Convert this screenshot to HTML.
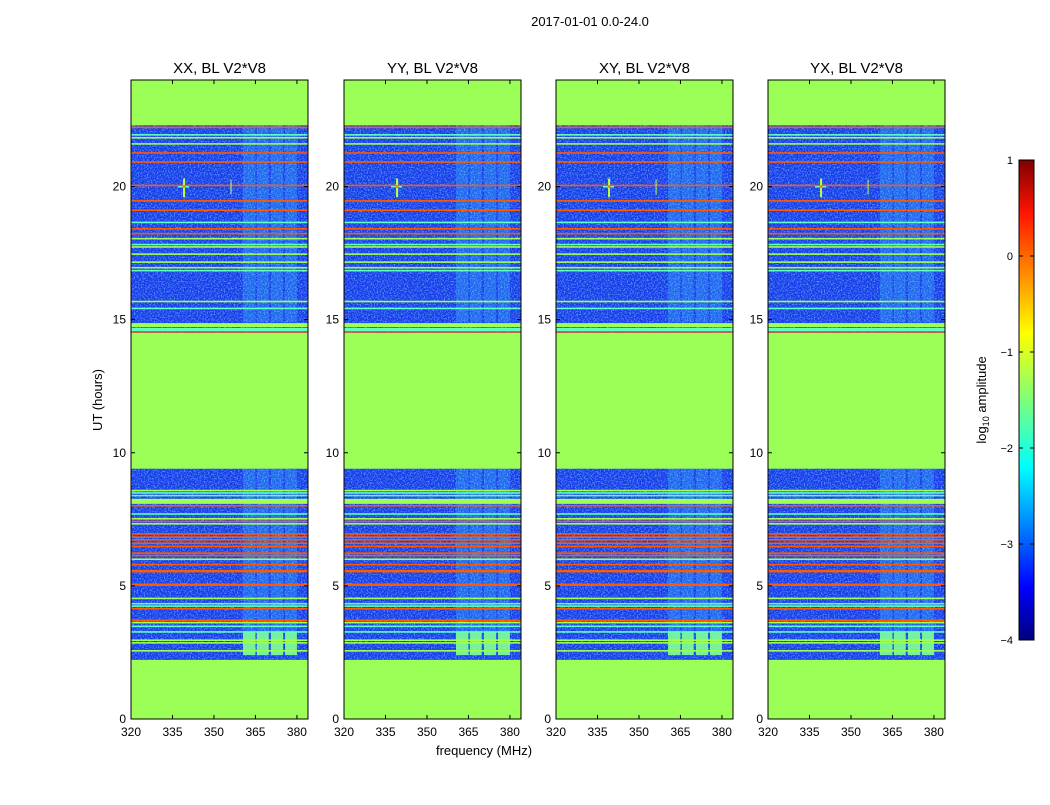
<!DOCTYPE html>
<html><head><meta charset="utf-8"><style>
body{margin:0;background:#fff;}
svg text{font-family:"Liberation Sans",sans-serif;}
</style></head><body>
<svg id="fig" width="1050" height="800" xmlns="http://www.w3.org/2000/svg">
<defs>
<filter id="noise" x="0" y="0" width="100%" height="100%">
<feTurbulence type="fractalNoise" baseFrequency="0.7" numOctaves="2" seed="3"/>
<feColorMatrix type="matrix" values="0 0 0 0 0.1  0 0 0 0 0.45  0 0 0 0 1  0 0 0 2.5 -1.1"/>
</filter>
<linearGradient id="jet" x1="0" y1="1" x2="0" y2="0">
<stop offset="0" stop-color="#00007f"/><stop offset="0.11" stop-color="#0000ff"/>
<stop offset="0.36" stop-color="#00ffff"/><stop offset="0.5" stop-color="#7dff7a"/>
<stop offset="0.64" stop-color="#ffff00"/><stop offset="0.89" stop-color="#ff1400"/>
<stop offset="1" stop-color="#7f0000"/></linearGradient>
</defs>
<text x="590" y="26" font-size="13" text-anchor="middle">2017-01-01 0.0-24.0</text>
<text x="484" y="755" font-size="13" text-anchor="middle">frequency (MHz)</text>
<text transform="translate(102,400) rotate(-90)" font-size="13" text-anchor="middle">UT (hours)</text>
<g id="panels"></g>
<g id="cbar"></g>
</svg>
<script>
const titles=["XX, BL V2*V8","YY, BL V2*V8","XY, BL V2*V8","YX, BL V2*V8"];
const panelLefts=[131,344,556,768];
const xTicks=[320,335,350,365,380];
const yTicks=[0,5,10,15,20];
const greenSpans=[[0,2.22],[9.4,14.5],[22.3,24]];
const lineHours=[22.22,21.94,21.83,21.6,21.26,20.92,20.04,19.46,19.11,18.65,18.41,18.23,18.04,17.82,17.73,17.46,17.16,16.95,16.84,15.68,15.42,14.54,
8.58,8.49,8.39,8.01,7.7,7.52,7.42,7.33,6.95,6.83,6.73,6.6,6.48,6.23,6.14,6.0,5.8,5.57,5.06,4.53,4.33,4.24,4.14,3.71,3.62,3.48,3.27,2.96,2.86,2.56];
const lineKinds=["o","c","g","g","o","o","o","o","o","c","o","o","g","c","g","g","g","g","c","g","c","o",
"g","c","c","o","c","g","o","g","o","o","o","o","o","o","o","g","o","O","O","g","c","c","o","o","g","c","c","g","g","g"];
const bandSpans=[[14.72,14.87,"g"],[14.57,14.69,"c"],[8.08,8.27,"g"]];
const rfiFreqs=[[360.5,365],[365.5,369.8],[370.6,375],[375.7,380]];
const rfiHourSpans=[[2.4,9.4],[14.9,22.3]];
const rfiBlockHours=[[2.4,3.27],[14.57,14.69]];
const cbTicks=[1,0,-1,-2,-3,-4];
const kindColor={o:"#ff5a00",O:"#ff5a00",g:"#a0ff50",c:"#60ffc0"};
const W=177,TOP=80,BOT=719,FMIN=320,FMAX=384,HMAX=24;
const svg=document.getElementById('fig'),NS="http://www.w3.org/2000/svg";
function mk(t,a,p){const e=document.createElementNS(NS,t);for(const k in a)e.setAttribute(k,a[k]);(p||svg).appendChild(e);return e;}
function yS(h){return BOT-(h/HMAX)*(BOT-TOP);}
const panels=document.getElementById('panels');
titles.forEach((t,i)=>{
 const L=panelLefts[i];
 const xS=f=>L+(f-FMIN)/(FMAX-FMIN)*W;
 const g=mk('g',{},panels);
 
 
 const bg=mk('rect',{x:L,y:TOP,width:W,height:BOT-TOP,fill:'#1a38e8'},g);
 
 
 mk('rect',{x:L,y:TOP,width:W,height:BOT-TOP,fill:'#fff',filter:'url(#noise)'},g);
 rfiHourSpans.forEach(s=>rfiFreqs.forEach(f=>{
  const r=mk('rect',{x:xS(f[0]),y:yS(s[1]),width:xS(f[1])-xS(f[0]),height:yS(s[0])-yS(s[1]),fill:'#40d0ff',opacity:0.28},g);
  
  
 }));
 rfiBlockHours.forEach((s,j)=>rfiFreqs.forEach(f=>{
  const r=mk('rect',{x:xS(f[0]),y:yS(s[1]),width:xS(f[1])-xS(f[0]),height:yS(s[0])-yS(s[1]),fill:j?'#e0ff40':'#80ff90',opacity:0.9},g);
  
  
 }));
 lineHours.forEach((h,j)=>{
  const k=lineKinds[j];
  const r=mk('rect',{x:L,y:yS(h)-0.8,width:W,height:k==="O"?2.5:1.6,fill:kindColor[k]},g);
  
  
 });
 bandSpans.forEach(s=>{
  const r=mk('rect',{x:L,y:yS(s[1]),width:W,height:yS(s[0])-yS(s[1]),fill:kindColor[s[2]]},g);
  
  
 });
 greenSpans.forEach(s=>{
  const r=mk('rect',{x:L,y:yS(s[1]),width:W,height:yS(s[0])-yS(s[1]),fill:'#9cff58'},g);
  
  
 });
 const src=mk('g',{},g);
 
 
 mk('rect',{x:xS(339)-0.5,y:yS(20.3),width:2,height:yS(19.6)-yS(20.3),fill:'#c0ff40'},src);
 mk('rect',{x:xS(337),y:yS(20)-0.5,width:xS(341)-xS(337),height:1.5,fill:'#60ffc0'},src);
 mk('circle',{cx:xS(339)+0.5,cy:yS(20),r:1.5,fill:'#ff8000'},src);
 if(i!==1) mk('rect',{x:xS(356),y:yS(20.26),width:1,height:yS(19.7)-yS(20.26),fill:'#c0ff40'},g);
 const fr=mk('rect',{x:L,y:TOP,width:W,height:BOT-TOP,fill:'none',stroke:'#000','stroke-width':1},g);
 
 
 const tt=mk('text',{x:L+W/2,y:73,'font-size':15,'text-anchor':'middle'},g);tt.textContent=t;
 
 
 xTicks.forEach(v=>{const x=xS(v);
  mk('line',{x1:x,x2:x,y1:BOT,y2:BOT-4,stroke:'#000'},g);mk('line',{x1:x,x2:x,y1:TOP,y2:TOP+4,stroke:'#000'},g);
  const tx=mk('text',{x:x,y:736,'font-size':12,'text-anchor':'middle'},g);tx.textContent=v;
  
  });
 yTicks.forEach(v=>{const y=yS(v);
  mk('line',{x1:L,x2:L+4,y1:y,y2:y,stroke:'#000'},g);mk('line',{x1:L+W,x2:L+W-4,y1:y,y2:y,stroke:'#000'},g);
  const ty=mk('text',{x:L-5,y:y+4,'font-size':12,'text-anchor':'end'},g);ty.textContent=v;
  
  });
});
const cb=document.getElementById('cbar');
const CB={x:1019,y:160,w:15,h:480};
const cbr=mk('rect',{x:CB.x,y:CB.y,width:CB.w,height:CB.h,fill:'url(#jet)',stroke:'#000'},cb);


cbTicks.forEach(v=>{const y=CB.y+(1-v)/5*CB.h;
 mk('line',{x1:CB.x,x2:CB.x+4,y1:y,y2:y,stroke:'#000'},cb);
 mk('line',{x1:CB.x+CB.w,x2:CB.x+CB.w-4,y1:y,y2:y,stroke:'#000'},cb);
 const t=mk('text',{x:CB.x-6,y:y+4,'font-size':11,'text-anchor':'end'},cb);t.textContent=v<0?'\u2212'+(-v):v;
 
 });
const cl=mk('text',{transform:'translate(986,400) rotate(-90)','font-size':13,'text-anchor':'middle'},cb);
cl.innerHTML='log<tspan font-size="9" dy="3">10</tspan><tspan dy="-3"> amplitude</tspan>';


</script>
</body></html>
